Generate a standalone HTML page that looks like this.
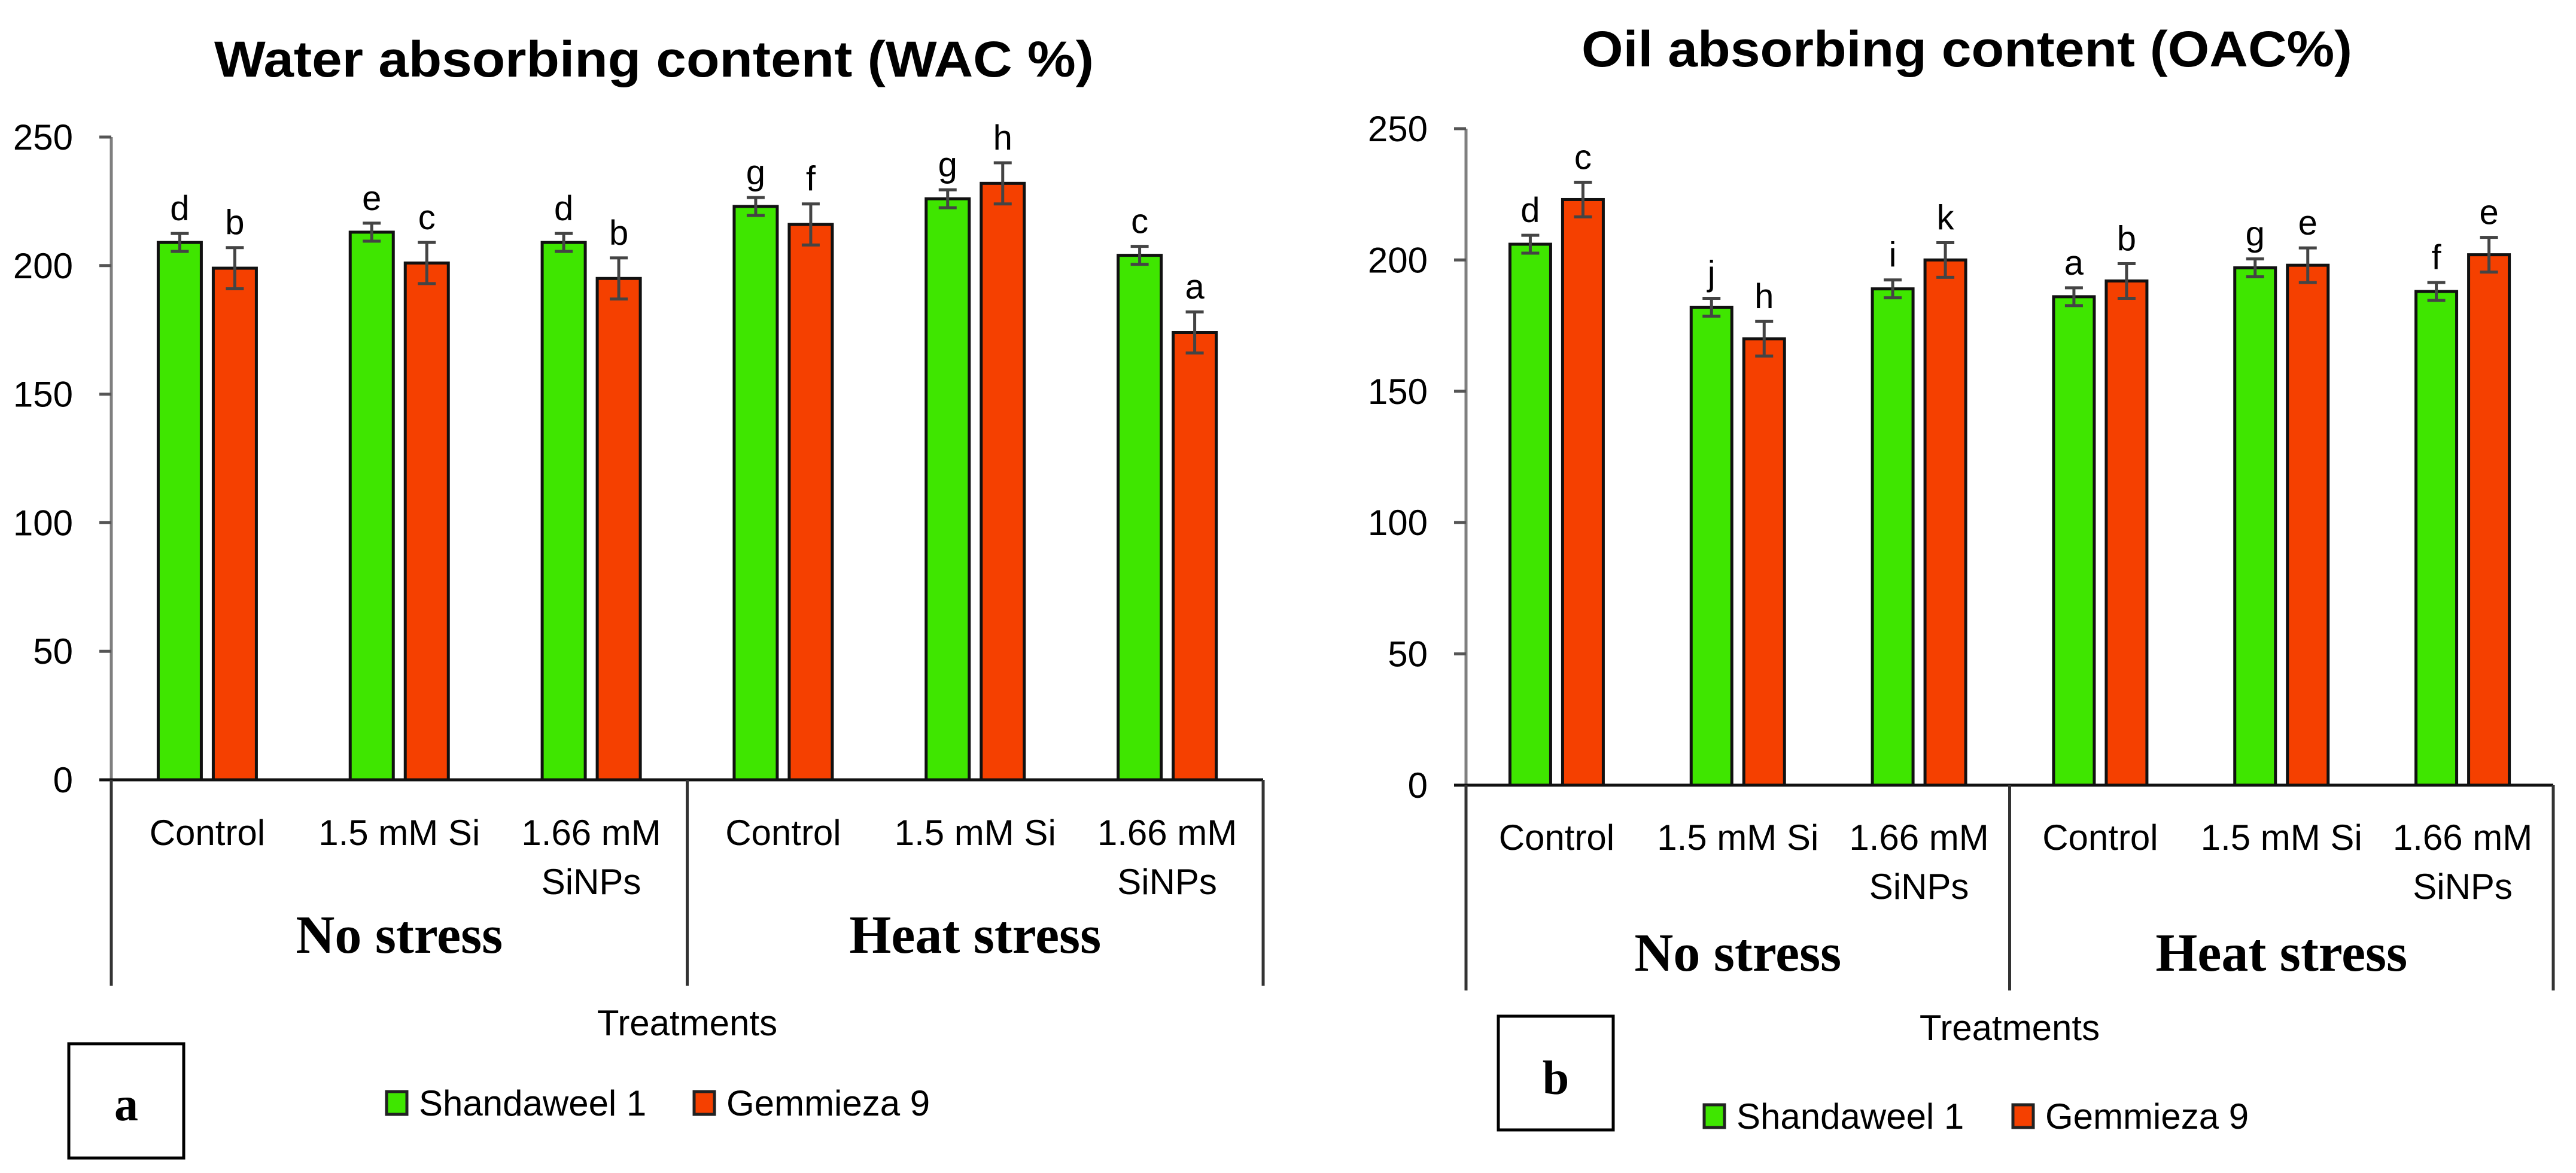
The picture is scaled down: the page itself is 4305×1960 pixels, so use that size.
<!DOCTYPE html>
<html><head><meta charset="utf-8"><style>
html,body{margin:0;padding:0;background:#fff;width:4305px;height:1960px;overflow:hidden}
svg{display:block}
</style></head><body>
<svg id="fig" width="4305" height="1960" viewBox="0 0 4305 1960" xmlns="http://www.w3.org/2000/svg"></svg>
<script>
const categories = ["Control","1.5 mM Si","1.66 mM SiNPs","Control","1.5 mM Si","1.66 mM SiNPs"];
const groups = ["No stress","Heat stress"];
const seriesNames = ["Shandaweel 1","Gemmieza 9"];
const yTicks = [0,50,100,150,200,250];
const wacShandaweel = [209,213,209,223,226,204];
const wacGemmieza = [199,201,195,216,232,174];
const wacShandaweelErr = [3.5,3.5,3.5,3.5,3.5,3.5];
const wacGemmiezaErr = [8,8,8,8,8,8];
const wacShandaweelLetters = ["d","e","d","g","g","c"];
const wacGemmiezaLetters = ["b","c","b","f","h","a"];
const oacShandaweel = [206,182,189,186,197,188];
const oacGemmieza = [223,170,200,192,198,202];
const oacShandaweelErr = [3.4,3.4,3.4,3.4,3.4,3.4];
const oacGemmiezaErr = [6.6,6.6,6.6,6.6,6.6,6.6];
const oacShandaweelLetters = ["d","j","i","a","g","f"];
const oacGemmiezaLetters = ["c","h","k","b","e","e"];

const NS = "http://www.w3.org/2000/svg";
const svg = document.getElementById('fig');
const GREEN = "#3fe600", RED = "#f54000";
function mk(tag, attrs, parent, text){
  const e = document.createElementNS(NS, tag);
  for (const k in attrs) e.setAttribute(k, attrs[k]);
  if (text !== undefined) e.textContent = text;
  (parent||svg).appendChild(e);
  return e;
}

function chart(cfg){
  const g = mk('g', {});
  
  
  const x0 = cfg.x0, x1 = cfg.x1, yZero = cfg.yZero, yTop = cfg.yTop;
  const yScale = v => yZero - (v/250)*(yZero - yTop);
  const catW = (x1 - x0)/categories.length;
  const xCenter = i => x0 + catW*(i+0.5);
  // title
  const t = mk('text', {x:cfg.titleX, y:cfg.titleY, 'text-anchor':'middle', 'font-family':'Liberation Sans, sans-serif', 'font-weight':'bold', 'font-size':84, textLength:cfg.titleW, lengthAdjust:'spacingAndGlyphs', fill:'#000'}, g, cfg.title);
  
  
  // y axis
  const ya = mk('line', {x1:x0, y1:yTop, x2:x0, y2:yZero, stroke:'#7f7f7f', 'stroke-width':5}, g);
  
  
  yTicks.forEach(v => {
    const y = yScale(v);
    mk('line', {x1:x0-20, y1:y, x2:x0, y2:y, stroke:'#555', 'stroke-width':5}, g);
    const tl = mk('text', {x:x0-64, y:y+21, 'text-anchor':'end', 'font-family':'Liberation Sans, sans-serif', 'font-size':60, fill:'#000'}, g, String(v));
    
    
  });
  // bars
  const series = [[cfg.s1, cfg.e1, cfg.l1, GREEN, -cfg.off], [cfg.s2, cfg.e2, cfg.l2, RED, cfg.off]];
  series.forEach((s, si) => {
    s[0].forEach((v, i) => {
      const cx = xCenter(i) + s[4];
      const yv = yScale(v);
      const r = mk('rect', {x:cx - cfg.bw/2, y:yv, width:cfg.bw, height:yZero - yv, fill:s[3], stroke:'#111', 'stroke-width':5}, g);
      
      
      const ye1 = yScale(v + s[1][i]), ye2 = yScale(v - s[1][i]);
      const eb = mk('path', {d:`M${cx},${ye1}V${ye2}M${cx-15},${ye1}H${cx+15}M${cx-15},${ye2}H${cx+15}`, stroke:'#444', 'stroke-width':5, fill:'none'}, g);
      
      
      const lt = mk('text', {x:cx, y:ye1 - 22, 'text-anchor':'middle', 'font-family':'Liberation Sans, sans-serif', 'font-size':58, fill:'#000'}, g, s[2][i]);
      
      
    });
  });
  // x axis & group lines
  const xa = mk('line', {x1:x0-20, y1:yZero, x2:x1, y2:yZero, stroke:'#111', 'stroke-width':5}, g);
  
  
  const xm = (x0 + x1)/2;
  [x0, xm, x1].forEach(x => mk('line', {x1:x, y1:yZero, x2:x, y2:cfg.groupBottom, stroke:'#333', 'stroke-width':5}, g));
  categories.forEach((c, i) => {
    const parts = c === "1.66 mM SiNPs" ? ["1.66 mM","SiNPs"] : [c];
    parts.forEach((p, j) => {
      const ct = mk('text', {x:xCenter(i), y:cfg.catY + j*82, 'text-anchor':'middle', 'font-family':'Liberation Sans, sans-serif', 'font-size':60, fill:'#000'}, g, p);
      
      
    });
  });
  groups.forEach((gr, i) => {
    const gx = i===0 ? (x0+xm)/2 : (xm+x1)/2;
    const gt = mk('text', {x:gx, y:cfg.groupY, 'text-anchor':'middle', 'font-family':'Liberation Serif, serif', 'font-weight':'bold', 'font-size':90, fill:'#000'}, g, gr);
    
    
  });
  const xt = mk('text', {x:xm, y:cfg.treatY, 'text-anchor':'middle', 'font-family':'Liberation Sans, sans-serif', 'font-size':60, fill:'#000'}, g, 'Treatments');
  
  
  // legend
  const lg = mk('g', {}, g);
  
  
  [[cfg.leg1, GREEN, seriesNames[0]], [cfg.leg2, RED, seriesNames[1]]].forEach(L => {
    mk('rect', {x:L[0], y:cfg.legY - 40, width:34, height:38, fill:L[1], stroke:'#222', 'stroke-width':5}, lg);
    const le = mk('text', {x:L[0] + 54, y:cfg.legY, 'font-family':'Liberation Sans, sans-serif', 'font-size':60, fill:'#000'}, lg, L[2]);
    
    
  });
  // panel label box
  const bx = mk('rect', {x:cfg.box[0], y:cfg.box[1], width:cfg.box[2], height:cfg.box[3], fill:'#fff', stroke:'#000', 'stroke-width':5}, g);
  
  
  const bt = mk('text', {x:cfg.box[0]+cfg.box[2]/2, y:cfg.boxTextY, 'text-anchor':'middle', 'font-family':'Liberation Serif, serif', 'font-weight':'bold', 'font-size':80, fill:'#000'}, g, cfg.panel);
  
  
}

chart({name:'wac-chart', title:'Water absorbing content (WAC %)', titleX:1093, titleY:128, titleW:1470,
  x0:186, x1:2111, yZero:1303, yTop:229, bw:72, off:46,
  s1:wacShandaweel, s2:wacGemmieza, e1:wacShandaweelErr, e2:wacGemmiezaErr, l1:wacShandaweelLetters, l2:wacGemmiezaLetters,
  groupBottom:1647, catY:1412, groupY:1592, treatY:1730, legY:1864, leg1:646, leg2:1160,
  box:[115,1744,192,191], boxTextY:1872, panel:'a'});

chart({name:'oac-chart', title:'Oil absorbing content (OAC%)', titleX:3287, titleY:111, titleW:1288,
  x0:2450, x1:4267, yZero:1312, yTop:215, bw:68, off:44,
  s1:oacShandaweel, s2:oacGemmieza, e1:oacShandaweelErr, e2:oacGemmiezaErr, l1:oacShandaweelLetters, l2:oacGemmiezaLetters,
  groupBottom:1655, catY:1420, groupY:1622, treatY:1738, legY:1886, leg1:2848, leg2:3364,
  box:[2504,1698,192,190], boxTextY:1828, panel:'b'});
</script>
</body></html>
